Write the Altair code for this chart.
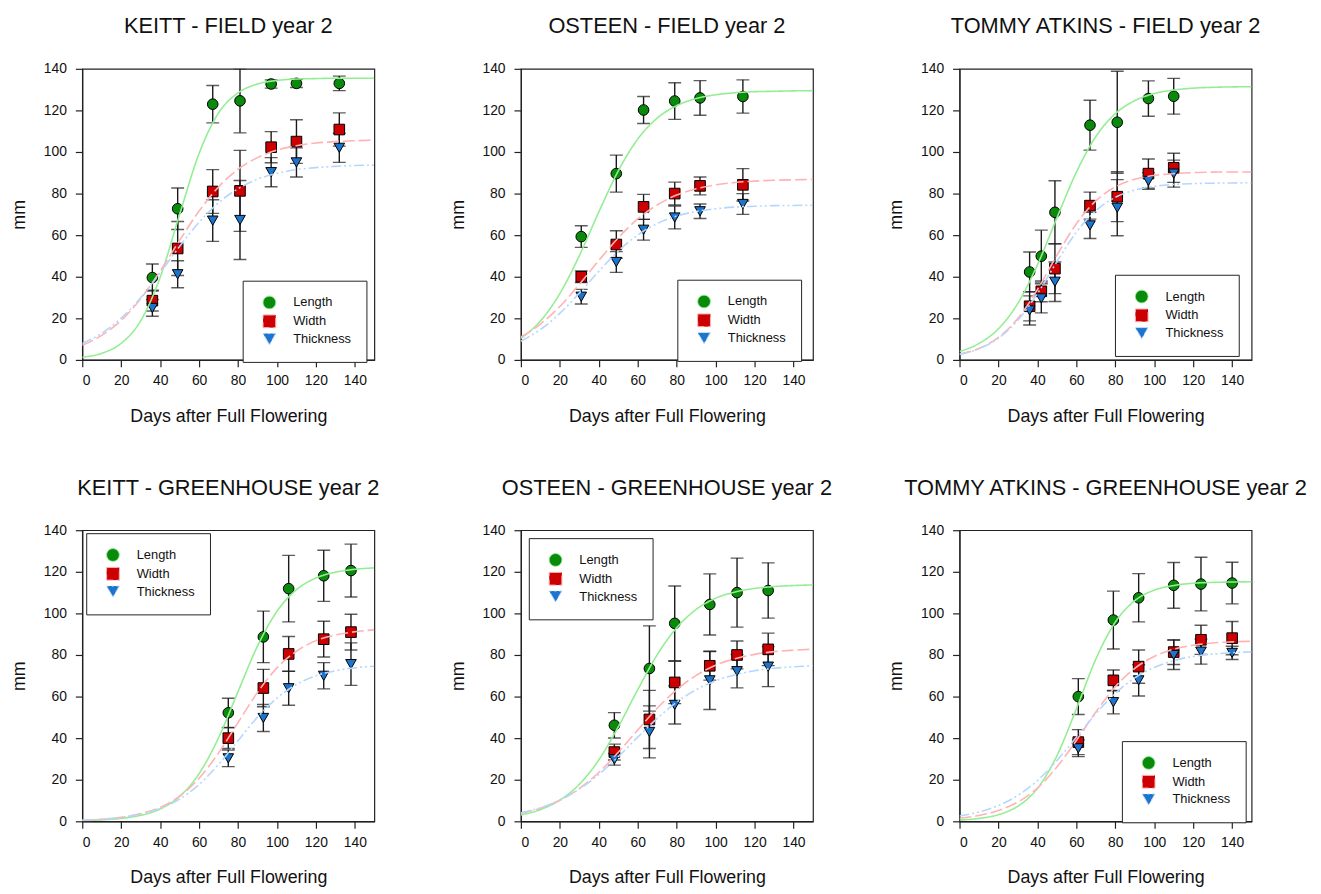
import altair as alt
import pandas as pd

SERIES = ["Length", "Width", "Thickness"]
POINT_COLORS = ["#0a8a0a", "#cc0000", "#1c74cc"]
CURVE_COLORS = ["#93ee93", "#ffb3b3", "#b5d6ff"]
SHAPES = ["circle", "square", "triangle-down"]
DASHES = [[1, 0], [12, 4], [10, 3, 2, 3, 2, 3]]

X_TICKS = [0, 20, 40, 60, 80, 100, 120, 140]
Y_TICKS = [0, 20, 40, 60, 80, 100, 120, 140]

# ---- measured points (mean, +/- error) ----
KF_DAYS = [36, 49, 67, 81, 97, 110, 132]
KF_LEN = [39.6, 72.7, 123.0, 124.6, 132.7, 133.0, 133.0]
KF_LEN_ERR = [6.5, 10.0, 9.0, 15.4, 2.0, 2.0, 3.5]
KF_WID = [28.5, 53.6, 81.0, 81.3, 102.3, 105.0, 110.8]
KF_WID_ERR = [5.0, 13.0, 10.5, 19.5, 7.5, 10.5, 8.0]
KF_THK = [25.0, 41.2, 67.0, 67.3, 90.3, 95.0, 102.0]
KF_THK_ERR = [4.0, 6.5, 10.0, 19.0, 7.0, 7.0, 7.0]

OF_DAYS = [31, 49, 63, 79, 92, 114]
OF_LEN = [59.3, 89.6, 120.2, 124.5, 126.0, 126.7]
OF_LEN_ERR = [5.2, 8.9, 6.5, 8.8, 8.3, 8.0]
OF_WID = [40.0, 55.5, 73.6, 80.0, 83.7, 84.2]
OF_WID_ERR = [2.8, 6.6, 6.0, 5.5, 4.3, 7.8]
OF_THK = [30.4, 47.1, 62.6, 68.5, 71.5, 75.0]
OF_THK_ERR = [3.5, 5.0, 5.0, 5.5, 3.5, 5.0]

TF_DAYS = [36, 42, 49, 67, 81, 97, 110]
TF_LEN = [42.3, 49.9, 71.0, 112.9, 114.3, 125.7, 126.8]
TF_LEN_ERR = [9.6, 12.5, 15.2, 12.0, 24.5, 8.5, 8.6]
TF_WID = [25.8, 33.0, 43.9, 74.2, 78.5, 89.6, 92.4]
TF_WID_ERR = [7.0, 5.0, 12.0, 6.5, 12.0, 7.0, 7.0]
TF_THK = [23.8, 29.6, 37.6, 64.7, 73.2, 86.1, 89.6]
TF_THK_ERR = [7.0, 7.0, 9.5, 6.3, 13.5, 4.0, 6.5]

KG_DAYS = [75, 93, 106, 124, 138]
KG_LEN = [52.2, 88.7, 111.9, 118.1, 120.6]
KG_LEN_ERR = [7.0, 12.4, 16.0, 12.3, 12.7]
KG_WID = [40.0, 64.1, 80.5, 87.6, 91.0]
KG_WID_ERR = [5.0, 9.0, 8.4, 8.6, 8.6]
KG_THK = [30.3, 49.7, 64.0, 70.0, 75.6]
KG_THK_ERR = [4.0, 6.5, 8.2, 6.3, 10.2]

OG_DAYS = [48, 66, 79, 97, 111, 127]
OG_LEN = [46.2, 73.5, 95.2, 104.3, 110.0, 111.0]
OG_LEN_ERR = [6.1, 20.5, 18.0, 14.7, 16.6, 13.3]
OG_WID = [33.3, 49.0, 66.8, 74.8, 80.0, 82.7]
OG_WID_ERR = [3.8, 14.0, 10.2, 6.9, 6.7, 7.8]
OG_THK = [29.8, 43.0, 56.0, 67.8, 72.2, 74.4]
OG_THK_ERR = [2.8, 12.5, 9.2, 14.0, 8.0, 9.6]

TG_DAYS = [61, 79, 92, 110, 124, 140]
TG_LEN = [60.0, 96.8, 107.5, 113.5, 114.1, 114.6]
TG_LEN_ERR = [8.6, 13.9, 11.6, 11.0, 12.9, 10.0]
TG_WID = [38.1, 67.8, 74.4, 81.4, 87.3, 88.1]
TG_WID_ERR = [6.0, 5.0, 8.0, 6.0, 7.0, 8.0]
TG_THK = [35.1, 57.3, 67.8, 80.0, 81.6, 81.0]
TG_THK_ERR = [4.0, 5.6, 7.5, 7.0, 6.0, 3.2]

# ---- fitted curves ----
FIT_DAYS = [0, 10, 20, 30, 40, 50, 60, 70, 80, 90, 100, 110, 120, 130, 140, 150]
KF_LEN_FIT = [1.3, 3.2, 8.0, 18.8, 39.7, 70.0, 99.3, 118.8, 128.4, 132.7, 134.4, 135.1, 135.3, 135.5, 135.5, 135.5]
KF_WID_FIT = [7.0, 11.8, 19.0, 29.4, 42.7, 57.5, 71.6, 83.2, 91.7, 97.3, 100.9, 103.0, 104.3, 105.0, 105.4, 105.7]
KF_THK_FIT = [7.9, 12.8, 20.1, 29.9, 41.9, 54.6, 66.2, 75.6, 82.3, 86.9, 89.7, 91.5, 92.5, 93.1, 93.5, 93.7]
OF_LEN_FIT = [10.4, 18.7, 31.9, 50.1, 71.1, 90.9, 106.2, 116.3, 122.3, 125.7, 127.5, 128.5, 129.0, 129.2, 129.4, 129.5]
OF_WID_FIT = [11.0, 17.2, 25.7, 36.3, 47.8, 58.7, 67.8, 74.5, 79.3, 82.3, 84.2, 85.3, 86.0, 86.4, 86.6, 86.8]
OF_THK_FIT = [9.0, 14.6, 22.4, 32.1, 42.6, 52.3, 60.1, 65.6, 69.2, 71.4, 72.7, 73.5, 73.9, 74.2, 74.3, 74.4]
TF_LEN_FIT = [4.0, 7.9, 15.0, 27.3, 45.7, 68.3, 90.3, 107.4, 118.4, 124.7, 128.1, 129.8, 130.7, 131.1, 131.3, 131.4]
TF_WID_FIT = [2.7, 5.5, 10.8, 20.0, 33.8, 50.3, 65.5, 76.5, 83.2, 86.9, 88.7, 89.6, 90.1, 90.3, 90.4, 90.4]
TF_THK_FIT = [2.6, 5.4, 10.4, 19.1, 31.9, 47.2, 61.4, 71.8, 78.2, 81.7, 83.5, 84.4, 84.8, 85.0, 85.1, 85.2]
KG_LEN_FIT = [0.3, 0.7, 1.4, 2.9, 5.9, 12.0, 22.9, 40.2, 62.4, 84.3, 101.0, 111.4, 117.0, 119.8, 121.2, 121.9]
KG_WID_FIT = [0.5, 1.0, 1.9, 3.7, 6.7, 12.1, 20.7, 32.9, 47.5, 62.0, 73.8, 81.8, 86.9, 89.6, 91.2, 92.1]
KG_THK_FIT = [0.6, 1.0, 1.9, 3.5, 6.2, 10.7, 17.7, 27.4, 38.8, 50.1, 59.3, 65.8, 70.0, 72.4, 73.8, 74.6]
OG_LEN_FIT = [3.1, 5.6, 10.2, 17.8, 29.5, 45.4, 63.3, 80.1, 93.1, 101.9, 107.3, 110.3, 112.0, 112.9, 113.4, 113.7]
OG_WID_FIT = [3.9, 6.3, 10.1, 15.8, 23.5, 33.2, 43.9, 54.4, 63.3, 70.2, 75.1, 78.2, 80.3, 81.6, 82.3, 82.8]
OG_THK_FIT = [4.1, 6.5, 10.2, 15.5, 22.5, 31.1, 40.5, 49.5, 57.3, 63.3, 67.6, 70.5, 72.4, 73.6, 74.3, 74.8]
TG_LEN_FIT = [0.6, 1.4, 3.2, 7.3, 15.8, 31.5, 54.1, 78.0, 95.8, 106.1, 111.2, 113.4, 114.5, 114.9, 115.1, 115.2]
TG_WID_FIT = [1.5, 2.8, 5.2, 9.3, 16.0, 26.1, 38.9, 52.6, 64.7, 73.6, 79.3, 82.8, 84.7, 85.8, 86.3, 86.6]
TG_THK_FIT = [2.6, 4.5, 7.6, 12.5, 19.6, 29.2, 40.4, 51.8, 61.5, 69.0, 74.0, 77.3, 79.3, 80.4, 81.1, 81.5]

FONT = "Liberation Sans"
W, H = 295, 294
PT = 115


def make_legend(lx, ly):
    return alt.Legend(
        title=None, orient="none", legendX=lx, legendY=ly,
        strokeColor="#222", fillColor="white", padding=15,
        symbolOffset=5, labelOffset=17, rowPadding=1,
        labelFontSize=13, labelFont=FONT, labelColor="#111", symbolSize=165,
        symbolStrokeColor="black", symbolStrokeWidth=1, symbolOpacity=1,
    )


def panel(title, days, means, errs, fits, lx, ly):
    rows = []
    for s, m, e in zip(SERIES, means, errs):
        for d, v, er in zip(days, m, e):
            rows.append({"Days": d, "Value": v, "Lo": v - er, "Hi": v + er, "Series": s})
    pts = pd.DataFrame(rows)
    crow = []
    for s, f in zip(SERIES, fits):
        for d, v in zip(FIT_DAYS, f):
            crow.append({"Days": d, "Value": v, "Series": s})
    cur = pd.DataFrame(crow)

    xs = alt.Scale(domain=[0, 150], nice=False)
    ys = alt.Scale(domain=[0, 140], nice=False)
    xax = alt.Axis(values=X_TICKS, title="Days after Full Flowering")
    yax = alt.Axis(values=Y_TICKS, title="mm")
    X = alt.X("Days:Q", scale=xs, axis=xax)

    base = alt.Chart(pts)
    rules = base.mark_rule(color="#1a1a1a", strokeWidth=1.4, clip=True).encode(
        x=X, y=alt.Y("Lo:Q", scale=ys, axis=yax), y2="Hi:Q")
    cap_hi = base.mark_tick(orient="horizontal", size=13, thickness=1.4, color="#1a1a1a", clip=True).encode(
        x=X, y=alt.Y("Hi:Q", scale=ys))
    cap_lo = base.mark_tick(orient="horizontal", size=13, thickness=1.4, color="#1a1a1a", clip=True).encode(
        x=X, y=alt.Y("Lo:Q", scale=ys))
    leg = make_legend(lx, ly)
    points = base.mark_point(filled=True, strokeWidth=1, size=PT, opacity=1).encode(
        x=X, y=alt.Y("Value:Q", scale=ys),
        fill=alt.Fill("Series:N", scale=alt.Scale(domain=SERIES, range=POINT_COLORS), legend=leg),
        shape=alt.Shape("Series:N", scale=alt.Scale(domain=SERIES, range=SHAPES), legend=leg),
        stroke=alt.value("black"),
    )
    curves = alt.Chart(cur).mark_line(strokeWidth=1.6, interpolate="monotone", clip=True).encode(
        x=X, y=alt.Y("Value:Q", scale=ys),
        stroke=alt.Stroke("Series:N", scale=alt.Scale(domain=SERIES, range=CURVE_COLORS), legend=None),
        strokeDash=alt.StrokeDash("Series:N", scale=alt.Scale(domain=SERIES, range=DASHES), legend=None),
        detail="Series:N",
    )
    return alt.layer(rules, cap_hi, cap_lo, points, curves).properties(
        width=W, height=H,
        title=alt.TitleParams(title, fontSize=22, font=FONT, fontWeight="normal", color="#111",
                              baseline="alphabetic", offset=7, anchor="middle"))


panels = [
    panel("KEITT - FIELD year 2", KF_DAYS, [KF_LEN, KF_WID, KF_THK], [KF_LEN_ERR, KF_WID_ERR, KF_THK_ERR],
          [KF_LEN_FIT, KF_WID_FIT, KF_THK_FIT], 162, 214),
    panel("OSTEEN - FIELD year 2", OF_DAYS, [OF_LEN, OF_WID, OF_THK], [OF_LEN_ERR, OF_WID_ERR, OF_THK_ERR],
          [OF_LEN_FIT, OF_WID_FIT, OF_THK_FIT], 158, 213),
    panel("TOMMY ATKINS - FIELD year 2", TF_DAYS, [TF_LEN, TF_WID, TF_THK], [TF_LEN_ERR, TF_WID_ERR, TF_THK_ERR],
          [TF_LEN_FIT, TF_WID_FIT, TF_THK_FIT], 157, 208),
    panel("KEITT - GREENHOUSE year 2", KG_DAYS, [KG_LEN, KG_WID, KG_THK], [KG_LEN_ERR, KG_WID_ERR, KG_THK_ERR],
          [KG_LEN_FIT, KG_WID_FIT, KG_THK_FIT], 4, 3),
    panel("OSTEEN - GREENHOUSE year 2", OG_DAYS, [OG_LEN, OG_WID, OG_THK], [OG_LEN_ERR, OG_WID_ERR, OG_THK_ERR],
          [OG_LEN_FIT, OG_WID_FIT, OG_THK_FIT], 8, 8),
    panel("TOMMY ATKINS - GREENHOUSE year 2", TG_DAYS, [TG_LEN, TG_WID, TG_THK], [TG_LEN_ERR, TG_WID_ERR, TG_THK_ERR],
          [TG_LEN_FIT, TG_WID_FIT, TG_THK_FIT], 164, 213),
]

chart = alt.concat(*panels, columns=3, spacing=alt.RowColnumber(row=172, column=148), bounds="flush").resolve_scale(
    fill="independent", shape="independent", stroke="independent", strokeDash="independent"
).resolve_legend(fill="independent", shape="independent").properties(
    padding={"left": 2, "top": 2, "right": 4, "bottom": 4}
).configure_view(stroke="#222", strokeWidth=1.2).configure_axis(
    grid=False, labelFont=FONT, titleFont=FONT, labelFontSize=14, titleFontSize=18,
    titleFontWeight="normal", labelColor="#111", titleColor="#111", tickColor="#222",
    domainColor="#222", tickSize=7, domainWidth=1.2, tickWidth=1.2
).configure_axisX(labelPadding=7, titlePadding=20).configure_axisY(labelPadding=9, titlePadding=15
).configure_legend(symbolStrokeColor="black", symbolStrokeWidth=1)

chart.save("out.html", embed_options={"renderer": "svg", "actions": False})
